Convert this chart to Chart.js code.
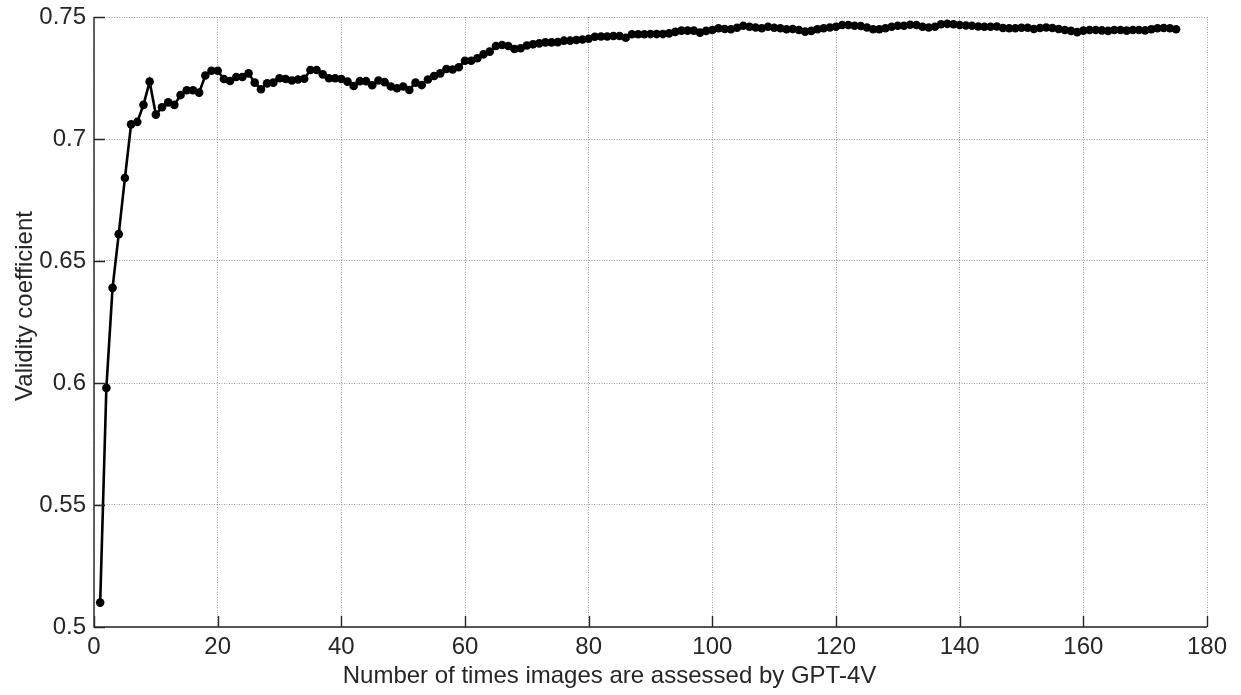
<!DOCTYPE html>
<html>
<head>
<meta charset="utf-8">
<script src="https://cdn.jsdelivr.net/npm/chart.js@4.4.1/dist/chart.umd.min.js"></script>
<style>
  html, body { margin: 0; padding: 0; background: #fff; }
  #wrap { width: 1241px; height: 695px; }
</style>
</head>
<body>
<div id="wrap"><canvas id="validityChart" width="1241" height="695"></canvas></div>
<script>
// validity coefficient after n assessments (n = 1..175)
const validity = [
  0.510, 0.598, 0.639, 0.661, 0.684, 0.706, 0.707, 0.714, 0.7235, 0.710,
  0.713, 0.715, 0.714, 0.718, 0.720, 0.720, 0.719, 0.726, 0.728, 0.728,
  0.7246, 0.7238, 0.7254, 0.7254, 0.7269, 0.7231, 0.7204, 0.7228, 0.7231, 0.7249,
  0.7246, 0.7240, 0.7244, 0.7247, 0.7283, 0.7283, 0.7265, 0.7249, 0.7249, 0.7246,
  0.7235, 0.7217, 0.7237, 0.7237, 0.7220, 0.7240, 0.7233, 0.7215, 0.7208, 0.7215,
  0.7201, 0.7231, 0.7221, 0.7244, 0.7258, 0.7269, 0.7287, 0.7285, 0.7294, 0.7321,
  0.7321, 0.7331, 0.7347, 0.7358, 0.7381, 0.7385, 0.7381, 0.7369, 0.7372, 0.7383,
  0.7388, 0.7392, 0.7396, 0.7396, 0.7397, 0.7403, 0.7403, 0.7406, 0.7408, 0.7411,
  0.7419, 0.7420, 0.7420, 0.7422, 0.7422, 0.7415, 0.7429, 0.7429, 0.7429, 0.7430,
  0.7430, 0.7430, 0.7433, 0.7439, 0.7444, 0.7444, 0.7444, 0.7436, 0.7443, 0.7447,
  0.7454, 0.7451, 0.7450, 0.7456, 0.7464, 0.7460, 0.7457, 0.7454, 0.7460, 0.7456,
  0.7454, 0.7450, 0.7451, 0.7447, 0.7440, 0.7443, 0.7450, 0.7454, 0.7457, 0.7460,
  0.7467, 0.7467, 0.7464, 0.7463, 0.7457, 0.7450, 0.7450, 0.7454, 0.7460, 0.7464,
  0.7464, 0.7468, 0.7467, 0.7460, 0.7457, 0.7460, 0.7470, 0.7472, 0.7470, 0.7467,
  0.7465, 0.7464, 0.7461, 0.7460, 0.7460, 0.7461, 0.7455, 0.7454, 0.7454, 0.7456,
  0.7456, 0.7451, 0.7455, 0.7457, 0.7455, 0.7451, 0.7447, 0.7443, 0.7438, 0.7444,
  0.7447, 0.7447, 0.7445, 0.7443, 0.7447, 0.7447, 0.7444, 0.7447, 0.7447, 0.7445,
  0.7450, 0.7454, 0.7455, 0.7454, 0.7450
];
// number of times the images were assessed (1, 2, 3, ...)
const assessCounts = validity.map((v, i) => i + 1);

const xTicks = [0, 20, 40, 60, 80, 100, 120, 140, 160, 180];
const yTicks = [0.5, 0.55, 0.6, 0.65, 0.7, 0.75];

const xTitle = 'Number of times images are assessed by GPT-4V';
const yTitle = 'Validity coefficient';

const textColor = '#262626';
const gridColor = 'rgba(0,0,0,0.38)';
const fontFamily = '"Liberation Sans", Arial, Helvetica, sans-serif';

// MATLAB style: solid axis lines on left/bottom, ticks pointing into the plot,
// and axis labels that sit a little off centre like the original export
const matlabAxes = {
    id: 'matlabAxes',
    afterDraw(chart) {
        const ctx = chart.ctx;
        const xs = chart.scales.x, ys = chart.scales.y;
        const area = chart.chartArea;
        ctx.save();
        ctx.strokeStyle = textColor;
        ctx.lineWidth = 1.4;
        ctx.beginPath();
        ctx.moveTo(area.left, area.top);
        ctx.lineTo(area.left, area.bottom);
        ctx.lineTo(area.right, area.bottom);
        xTicks.forEach(t => {
            const px = Math.round(xs.getPixelForValue(t)) + 0.5;
            ctx.moveTo(px, area.bottom);
            ctx.lineTo(px, area.bottom - 11);
        });
        yTicks.forEach(t => {
            const py = Math.round(ys.getPixelForValue(t)) + 0.5;
            ctx.moveTo(area.left, py);
            ctx.lineTo(area.left + 11, py);
        });
        ctx.stroke();

        ctx.fillStyle = textColor;
        ctx.font = '24px ' + fontFamily;
        ctx.textAlign = 'center';
        ctx.textBaseline = 'middle';
        ctx.fillText(xTitle, (area.left + area.right) / 2 - 41, chart.height - 19);
        ctx.translate(25, (area.top + area.bottom) / 2 - 16);
        ctx.rotate(-Math.PI / 2);
        ctx.fillText(yTitle, 0, 0);
        ctx.restore();
    }
};

const ctxValidity = document.getElementById('validityChart').getContext('2d');
const validityChart = new Chart(ctxValidity, {
    type: 'line',
    data: {
        labels: assessCounts,
        datasets: [{
            label: yTitle,
            data: assessCounts.map((n, i) => ({ x: n, y: validity[i] })),
            borderColor: '#000',
            backgroundColor: '#000',
            borderWidth: 2.6,
            pointRadius: 4.3,
            pointBorderWidth: 0,
            pointBackgroundColor: '#000',
            tension: 0,
            fill: false
        }]
    },
    options: {
        responsive: false,
        animation: false,
        devicePixelRatio: 1,
        layout: { padding: { left: 0, top: 17, right: 34, bottom: 0 } },
        plugins: {
            legend: { display: false },
            tooltip: { enabled: false }
        },
        scales: {
            x: {
                type: 'linear',
                min: 0,
                max: 180,
                afterFit: s => {
                    s.height = 68;
                    s.paddingLeft = 0;
                    s.paddingRight = 0;
                },
                afterBuildTicks: s => { s.ticks = xTicks.map(v => ({ value: v })); },
                grid: { color: gridColor, lineWidth: 1, drawTicks: false },
                border: { display: false, dash: [1, 1.5] },
                ticks: {
                    color: textColor,
                    font: { family: fontFamily, size: 24 },
                    padding: 6,
                    maxRotation: 0
                },
                title: { display: false }
            },
            y: {
                min: 0.5,
                max: 0.75,
                afterFit: s => {
                    s.width = 94;
                    s.paddingTop = 0;
                    s.paddingBottom = 0;
                },
                afterBuildTicks: s => { s.ticks = yTicks.map(v => ({ value: v })); },
                grid: { color: gridColor, lineWidth: 1, drawTicks: false },
                border: { display: false, dash: [1, 1.5] },
                ticks: {
                    color: textColor,
                    font: { family: fontFamily, size: 24 },
                    padding: 8,
                    callback: v => String(+v.toFixed(2))
                },
                title: { display: false }
            }
        }
    },
    plugins: [matlabAxes]
});
</script>
</body>
</html>
